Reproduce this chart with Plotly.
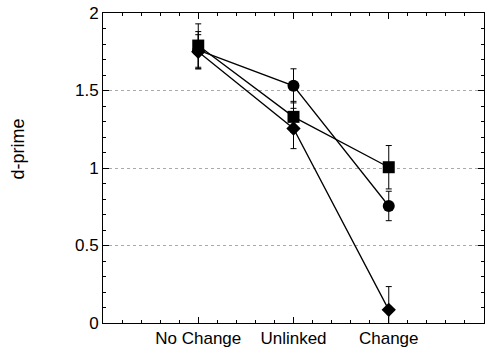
import plotly.graph_objects as go

categories = ["No Change", "Unlinked", "Change"]
cat_pos = [1, 2, 3]
circle_vals = [1.76, 1.53, 0.755]
circle_err = [0.12, 0.11, 0.095]
square_vals = [1.79, 1.33, 1.005]
square_err = [0.14, 0.10, 0.14]
diamond_vals = [1.75, 1.255, 0.085]
diamond_err = [0.11, 0.13, 0.15]
y_ticks = [0, 0.5, 1, 1.5, 2]
y_ticktext = ["0", "0.5", "1", "1.5", "2"]
y_title = "d-prime"

fig = go.Figure()
series = [
    ("circle", circle_vals, circle_err, 12),
    ("square", square_vals, square_err, 12),
    ("diamond", diamond_vals, diamond_err, 11),
]
for sym, vals, err, sz in series:
    fig.add_trace(go.Scatter(
        x=cat_pos, y=vals, mode="lines+markers",
        line=dict(color="black", width=1.3),
        marker=dict(symbol=sym, size=sz, color="black"),
        error_y=dict(type="data", array=err, visible=True, color="black", thickness=1, width=3),
        showlegend=False,
    ))

axis_font = dict(family="Liberation Sans, Arial, sans-serif", size=17, color="black")
fig.update_layout(
    width=485, height=349,
    margin=dict(l=103, r=1, t=13, b=26),
    paper_bgcolor="white", plot_bgcolor="white",
    font=axis_font,
)
fig.add_annotation(
    text=y_title, xref="paper", yref="paper", x=-0.223, y=0.56,
    textangle=-90, showarrow=False, xanchor="center", yanchor="middle",
    font=dict(family="Liberation Sans, Arial, sans-serif", size=18, color="black"),
)
fig.update_xaxes(
    range=[0, 4], tickvals=cat_pos, ticktext=categories,
    showline=True, linecolor="black", linewidth=1, mirror="ticks",
    ticks="inside", ticklen=6, tickcolor="black",
    minor=dict(dtick=0.2, ticks="inside", ticklen=3, tickcolor="black"),
    showgrid=False, zeroline=False, tickfont=axis_font,
)
fig.update_yaxes(
    range=[0, 2], tickvals=y_ticks, ticktext=y_ticktext,
    showline=True, linecolor="black", linewidth=1, mirror="ticks",
    ticks="inside", ticklen=6, tickcolor="black",
    minor=dict(dtick=0.1, ticks="inside", ticklen=3, tickcolor="black"),
    showgrid=True, gridcolor="#aaa", griddash="dot", gridwidth=1,
    zeroline=False, tickfont=axis_font,
)
fig.write_html("out.html", config={"displayModeBar": False},
               post_script="document.body.style.margin='0px';")
